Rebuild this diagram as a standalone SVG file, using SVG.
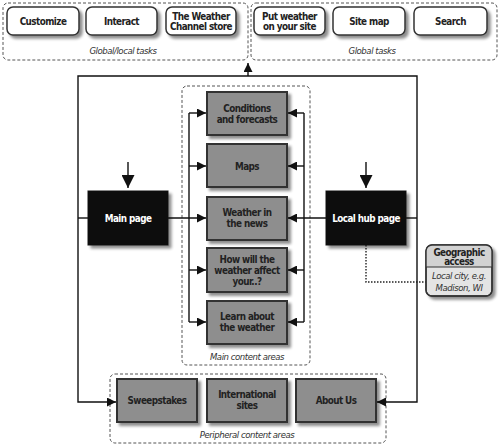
<svg xmlns="http://www.w3.org/2000/svg" width="500" height="445" viewBox="0 0 500 445">
<defs>
<filter id="sh" x="-20%" y="-20%" width="140%" height="150%">
<feGaussianBlur in="SourceAlpha" stdDeviation="1.5"/>
<feOffset dx="2.5" dy="3" result="o"/>
<feComponentTransfer><feFuncA type="linear" slope="0.45"/></feComponentTransfer>
<feMerge><feMergeNode/><feMergeNode in="SourceGraphic"/></feMerge>
</filter>
<marker id="ah" viewBox="0 0 10 10" refX="10" refY="5" markerWidth="9" markerHeight="9" markerUnits="userSpaceOnUse" orient="auto">
<path d="M0,0 L10,5 L0,10 z" fill="#111"/>
</marker>
<marker id="ahb" viewBox="0 0 10 10" refX="10" refY="5" markerWidth="13" markerHeight="13" markerUnits="userSpaceOnUse" orient="auto">
<path d="M0,0 L10,5 L0,10 z" fill="#111"/>
</marker>
</defs>
<style>
text{font-family:"DejaVu Sans Condensed","Liberation Sans",sans-serif;font-size:9.8px;letter-spacing:-0.55px;text-anchor:middle;fill:#222}
.b{font-weight:bold}
.w{fill:#fff;font-weight:bold}
.i{font-style:italic;font-size:9.5px;letter-spacing:-0.45px;fill:#333}
.dash{fill:none;stroke:#555;stroke-width:1;stroke-dasharray:3,2}
.btn{fill:#fff;stroke:#333;stroke-width:1.5}
.gray{fill:#8e8e8e;stroke:#333;stroke-width:2}
.blk{fill:#111;stroke:#111;stroke-width:1}
.ln{fill:none;stroke:#111;stroke-width:1.4}
</style>
<rect width="500" height="445" fill="#fff"/>

<g id="global-local-tasks">
<rect class="dash" x="3" y="3" width="245" height="57" rx="5"/>
<text class="i" x="123" y="54">Global/local tasks</text>
</g>
<g id="global-tasks">
<rect class="dash" x="251" y="3" width="246" height="57" rx="5"/>
<text class="i" x="372" y="54">Global tasks</text>
</g>
<g id="customize"><rect class="btn" x="7" y="7" width="72" height="28" rx="6" filter="url(#sh)"/><text class="b" x="43" y="25">Customize</text></g>
<g id="interact"><rect class="btn" x="86" y="7" width="71" height="28" rx="6" filter="url(#sh)"/><text class="b" x="121.5" y="25">Interact</text></g>
<g id="store"><rect class="btn" x="166" y="7" width="70" height="28" rx="6" filter="url(#sh)"/><text class="b" x="201" y="19.5">The Weather</text><text class="b" x="201" y="30">Channel store</text></g>
<g id="put-weather"><rect class="btn" x="254" y="7" width="71" height="28" rx="6" filter="url(#sh)"/><text class="b" x="289.5" y="19.5">Put weather</text><text class="b" x="289.5" y="30">on your site</text></g>
<g id="site-map"><rect class="btn" x="333" y="7" width="72" height="28" rx="6" filter="url(#sh)"/><text class="b" x="369" y="25">Site map</text></g>
<g id="search"><rect class="btn" x="414" y="7" width="73" height="28" rx="6" filter="url(#sh)"/><text class="b" x="450.5" y="25">Search</text></g>

<g id="main-content-areas">
<rect class="dash" x="182" y="86" width="128" height="279" rx="5"/>
<text class="i" x="247" y="360">Main content areas</text>
</g>
<g id="peripheral-content-areas">
<rect class="dash" x="110" y="374" width="276" height="69" rx="5"/>
<text class="i" x="247" y="438">Peripheral content areas</text>
</g>

<g id="connectors">
<path class="ln" d="M78,218 V76 H417 V218"/>
<path class="ln" d="M248,76 V63" marker-end="url(#ah)"/>
<path class="ln" d="M78,218 V402 H116" marker-end="url(#ah)"/>
<path class="ln" d="M417,218 V402 H377" marker-end="url(#ah)"/>
<path class="ln" d="M78,218 H88"/>
<path class="ln" d="M406,218 H417"/>
<path class="ln" d="M168,218 H206" marker-end="url(#ah)"/>
<path class="ln" d="M326,218 H288" marker-end="url(#ah)"/>
<path class="ln" d="M189,113 V322"/>
<path class="ln" d="M189,113 H206" marker-end="url(#ah)"/>
<path class="ln" d="M189,166 H206" marker-end="url(#ah)"/>
<path class="ln" d="M189,270 H206" marker-end="url(#ah)"/>
<path class="ln" d="M189,322 H206" marker-end="url(#ah)"/>
<path class="ln" d="M304,113 V322"/>
<path class="ln" d="M304,113 H288" marker-end="url(#ah)"/>
<path class="ln" d="M304,166 H288" marker-end="url(#ah)"/>
<path class="ln" d="M304,270 H288" marker-end="url(#ah)"/>
<path class="ln" d="M304,322 H288" marker-end="url(#ah)"/>
<path class="ln" d="M128,162 V188" stroke-width="2" marker-end="url(#ahb)"/>
<path class="ln" d="M366,162 V188" stroke-width="2" marker-end="url(#ahb)"/>
<path d="M366,245 V282 H426" fill="none" stroke="#222" stroke-width="1.4" stroke-dasharray="1.5,1.5"/>
</g>

<g id="main-page"><rect class="blk" x="88" y="191" width="80" height="54" filter="url(#sh)"/><text class="w" x="128" y="222">Main page</text></g>
<g id="local-hub-page"><rect class="blk" x="326" y="191" width="80" height="54" filter="url(#sh)"/><text class="w" x="366" y="222">Local hub page</text></g>

<g id="conditions"><rect class="gray" x="207" y="92" width="80" height="43" filter="url(#sh)"/><text class="b" x="247" y="112">Conditions</text><text class="b" x="247" y="123">and forecasts</text></g>
<g id="maps"><rect class="gray" x="207" y="144" width="80" height="43" filter="url(#sh)"/><text class="b" x="247" y="169.5">Maps</text></g>
<g id="weather-news"><rect class="gray" x="207" y="197" width="80" height="43" filter="url(#sh)"/><text class="b" x="247" y="216">Weather in</text><text class="b" x="247" y="227">the news</text></g>
<g id="how-will"><rect class="gray" x="207" y="248" width="80" height="44" filter="url(#sh)"/><text class="b" x="247" y="263">How will the</text><text class="b" x="247" y="274">weather affect</text><text class="b" x="247" y="285">your..?</text></g>
<g id="learn"><rect class="gray" x="207" y="301" width="80" height="43" filter="url(#sh)"/><text class="b" x="247" y="320">Learn about</text><text class="b" x="247" y="331">the weather</text></g>

<g id="sweepstakes"><rect class="gray" x="117" y="379" width="80" height="43" filter="url(#sh)"/><text class="b" x="157" y="404">Sweepstakes</text></g>
<g id="international"><rect class="gray" x="207" y="379" width="80" height="43" filter="url(#sh)"/><text class="b" x="247" y="398">International</text><text class="b" x="247" y="409">sites</text></g>
<g id="about-us"><rect class="gray" x="296" y="379" width="80" height="43" filter="url(#sh)"/><text class="b" x="336" y="404">About Us</text></g>

<g id="geographic-access">
<rect x="426" y="245" width="66" height="51" rx="6" fill="#e4e4e4" stroke="#333" stroke-width="1.4" filter="url(#sh)"/>
<path d="M426,267 V251 a6,6 0 0 1 6,-6 H486 a6,6 0 0 1 6,6 V267 z" fill="#d2d2d2"/>
<rect x="426" y="245" width="66" height="51" rx="6" fill="none" stroke="#333" stroke-width="1.4"/>
<line x1="426" y1="267" x2="492" y2="267" stroke="#333" stroke-width="1"/>
<text class="b" x="459" y="255.5">Geographic</text>
<text class="b" x="459" y="265">access</text>
<text class="i" x="459" y="279">Local city, e.g.</text>
<text class="i" x="459" y="291">Madison, WI</text>
</g>
</svg>
